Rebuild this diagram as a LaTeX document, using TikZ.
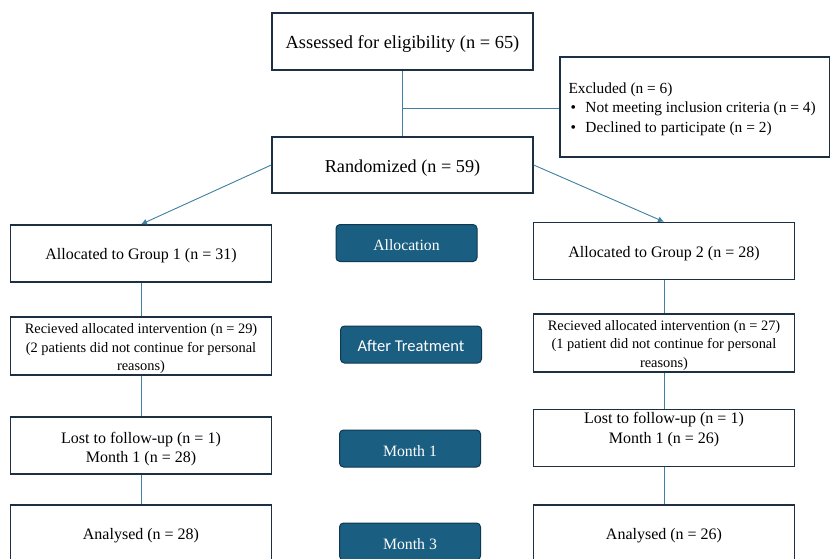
\documentclass[tikz,border=0pt]{standalone}
\usepackage{fontspec}
\setmainfont{Liberation Serif}
\newfontfamily\labsans{Carlito}
\usetikzlibrary{arrows.meta}
\definecolor{boxline}{RGB}{28,48,66}
\definecolor{conn}{RGB}{62,128,162}
\definecolor{labfill}{RGB}{26,94,130}
\definecolor{labline}{RGB}{16,56,80}
\tikzset{
  box/.style={draw=boxline, line width=1.4pt, fill=white, rectangle, inner sep=0pt, minimum width=261pt},
  tag/.style={draw=labline, line width=1pt, fill=labfill, rounded corners=4pt, minimum width=141pt, minimum height=37pt, inner sep=0pt},
  txt/.style={inner sep=0pt, align=center},
  tagtxt/.style={inner sep=0pt, text=white},
  link/.style={draw=conn, line width=0.9pt},
  arr/.style={link, -{Latex[length=6pt,width=6pt]}}
}
\begin{document}
\begin{tikzpicture}[x=1pt,y=-1pt]
\useasboundingbox (0,0) rectangle (830,558);
\clip (0,0) rectangle (830,558);
\fill[white] (0,0) rectangle (830,558);
% boxes
\node[box, minimum height=57pt] (assess) at (402.5,41.5) {};
\node[box, minimum height=56pt] (rand) at (402.5,165) {};
\node[box, minimum width=270pt, minimum height=100pt] (excl) at (695,107) {};
\node[box, minimum height=57pt] (g1) at (141,253.5) {};
\node[box, minimum height=58pt] (r1) at (141,346) {};
\node[box, minimum height=57pt] (l1) at (141,445.5) {};
\node[box, minimum height=57pt] (a1) at (141,533.5) {};
\node[box, minimum height=57pt] (g2) at (664,251) {};
\node[box, minimum height=58pt] (r2) at (664,343) {};
\node[box, minimum height=57pt] (l2) at (664,438) {};
\node[box, minimum height=57pt] (a2) at (664,533.5) {};
% box texts
\node[txt, font=\fontsize{18.4}{21}\selectfont] (assess-t) at ([yshift=-3pt]assess.center) {Assessed for eligibility (n = 65)};
\node[txt, font=\fontsize{18.2}{21}\selectfont] (rand-t) at ([yshift=-3.5pt]rand.center) {Randomized (n = 59)};
\node[txt, align=left, anchor=west, font=\fontsize{15.4}{19.5}\selectfont] (excl-t) at ([xshift=9pt,yshift=-2pt]excl.west) {Excluded (n = 6)\\
\hspace*{2pt}\makebox[15pt][l]{\textbullet}Not meeting inclusion criteria (n = 4)\\
\hspace*{2pt}\makebox[15pt][l]{\textbullet}Declined to participate (n = 2)};
\node[txt, font=\fontsize{16}{19}\selectfont] (g1-t) at ([yshift=-2.5pt]g1.center) {Allocated to Group 1 (n = 31)};
\node[txt, font=\fontsize{14.4}{18.5}\selectfont] (r1-t) at ([yshift=-3pt]r1.center) {Recieved allocated intervention (n = 29)\\(2 patients did not continue for personal\\reasons)};
\node[txt, font=\fontsize{16}{19.5}\selectfont] (l1-t) at ([yshift=-3.5pt]l1.center) {Lost to follow-up (n = 1)\\Month 1 (n = 28)};
\node[txt, font=\fontsize{16}{19}\selectfont] (a1-t) at ([yshift=-2pt]a1.center) {Analysed (n = 28)};
\node[txt, font=\fontsize{16}{19}\selectfont] (g2-t) at ([yshift=-3pt]g2.center) {Allocated to Group 2 (n = 28)};
\node[txt, font=\fontsize{14.4}{18.5}\selectfont] (r2-t) at ([yshift=-2.5pt]r2.center) {Recieved allocated intervention (n = 27)\\(1 patient did not continue for personal\\reasons)};
\node[txt, font=\fontsize{16}{19.5}\selectfont] (l2-t) at ([yshift=8.5pt]l2.center) {Lost to follow-up (n = 1)\\Month 1 (n = 26)};
\node[txt, font=\fontsize{16}{19}\selectfont] (a2-t) at ([yshift=-2pt]a2.center) {Analysed (n = 26)};
% stage tags
\node[tag] (t1) at (406.5,243) {};
\node[tag] (t2) at (411,344.5) {};
\node[tag] (t3) at (410,448.5) {};
\node[tag] (t4) at (410,541.5) {};
\node[tagtxt, font=\fontsize{15.7}{18}\selectfont] (t1-t) at ([yshift=-2.5pt]t1.center) {Allocation};
\node[tagtxt, font=\labsans\fontsize{16.5}{18}\selectfont] (t2-t) at ([yshift=-1pt]t2.center) {After Treatment};
\node[tagtxt, font=\fontsize{15.8}{18}\selectfont] (t3-t) at ([yshift=-2.5pt]t3.center) {Month 1};
\node[tagtxt, font=\fontsize{15.8}{18}\selectfont] (t4-t) at ([yshift=-3pt]t4.center) {Month 3};
% connectors
\coordinate (junc) at (402.5,108);
\draw[link] (assess.south) -- (rand.north);
\draw[link] (junc) -- (excl.west |- junc);
\draw[arr] (rand.west) -- (g1.north);
\draw[arr] (rand.east) -- (g2.north);
\draw[link] (g1.south) -- (r1.north);
\draw[link] (r1.south) -- (l1.north);
\draw[link] (l1.south) -- (a1.north);
\draw[link] (g2.south) -- (r2.north);
\draw[link] (r2.south) -- (l2.north);
\draw[link] (l2.south) -- (a2.north);
\end{tikzpicture}
\end{document}
